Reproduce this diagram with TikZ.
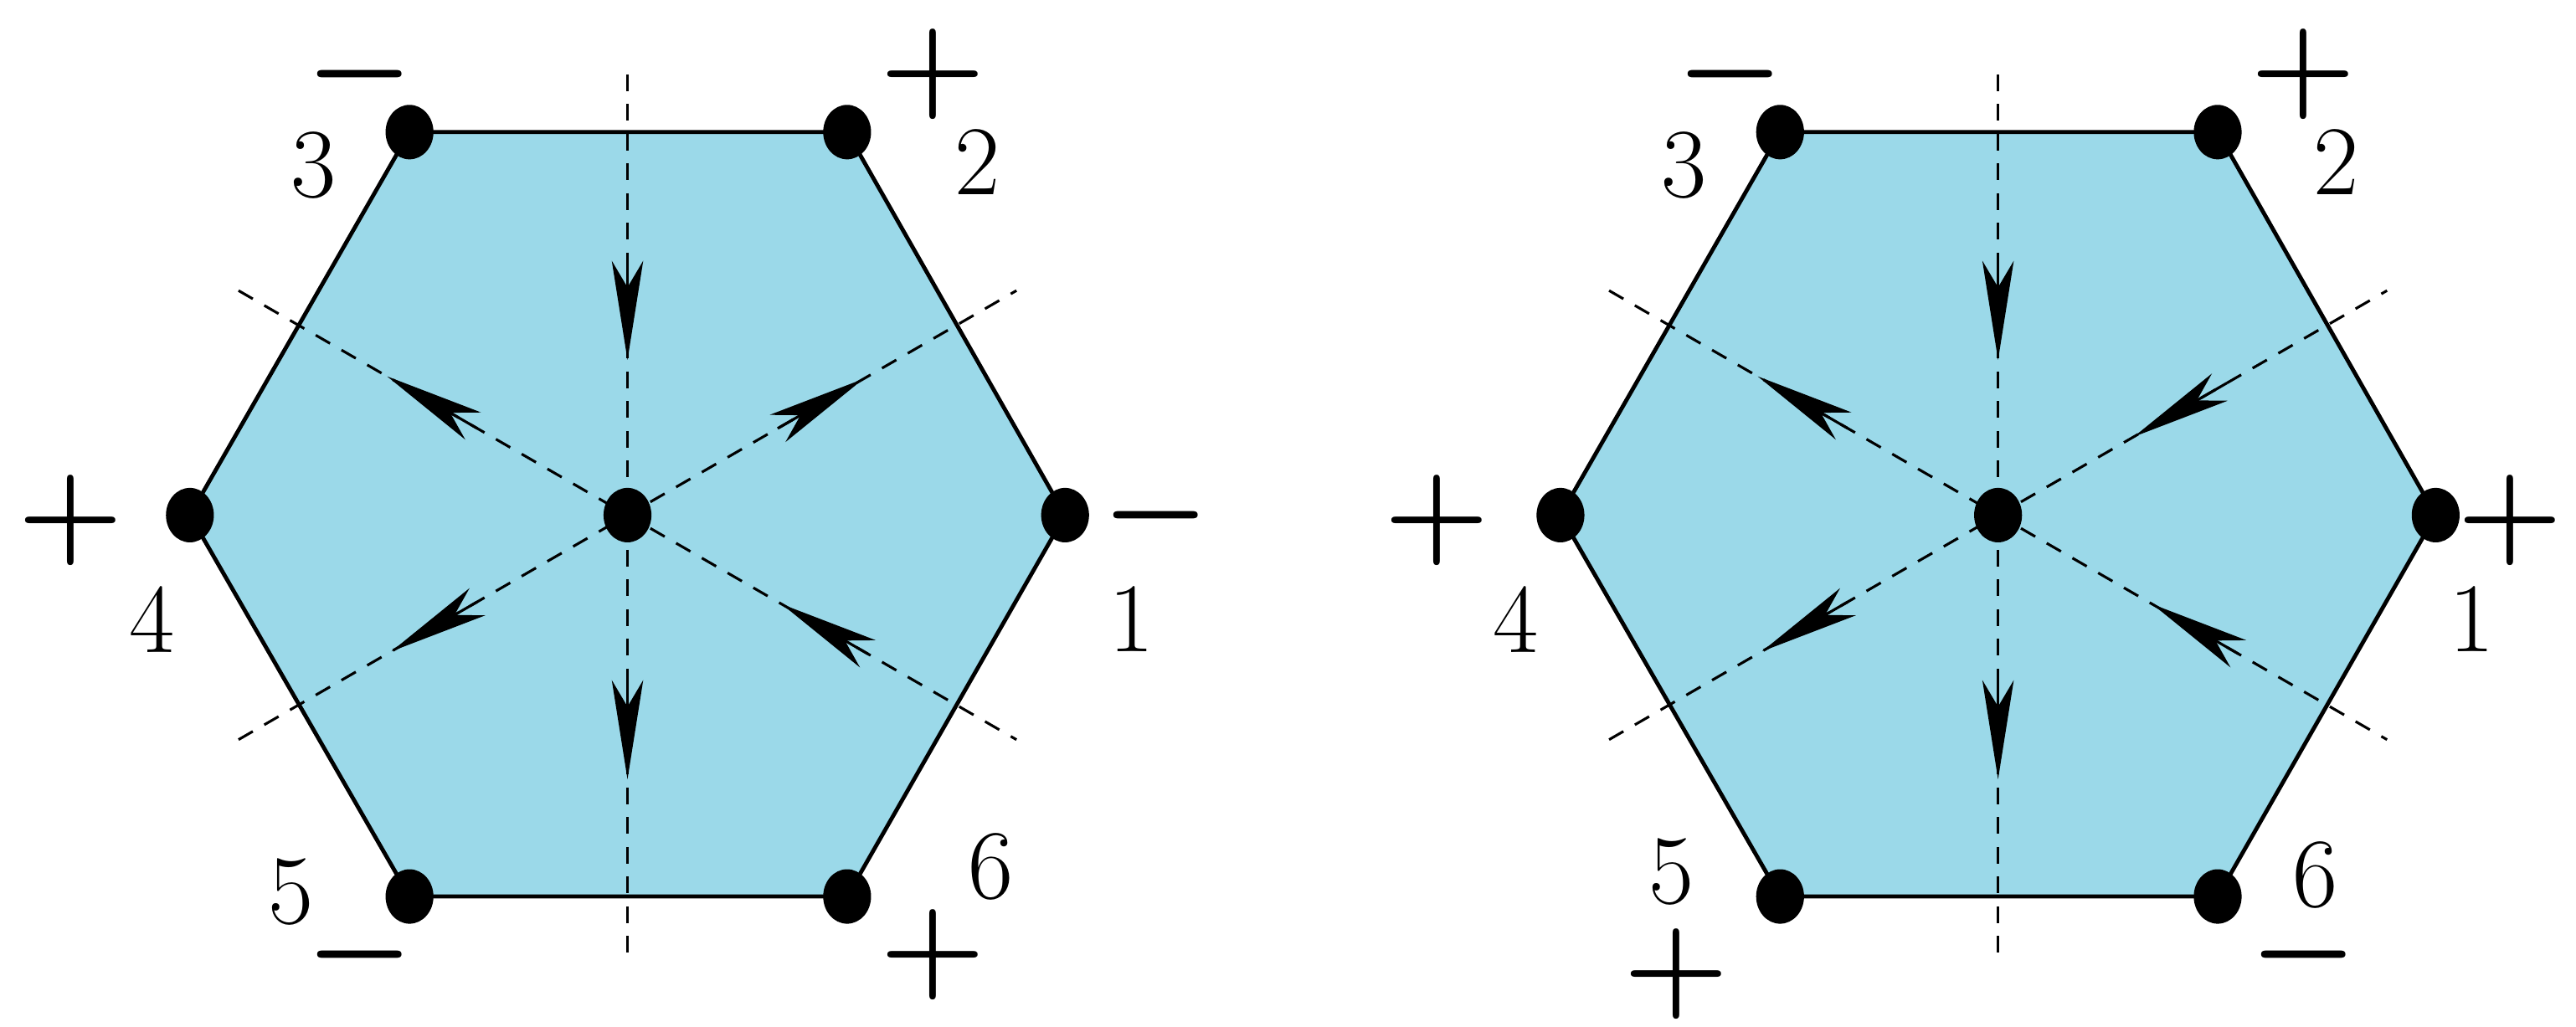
\documentclass[tikz,border=0pt]{standalone}
\usetikzlibrary{arrows.meta,calc,shapes.geometric}
\definecolor{hexfill}{RGB}{155,217,233}
\tikzset{
  dot/.style={ellipse,fill=black,minimum width=2.9mm,minimum height=3.3mm,inner sep=0pt},
  hexedge/.style={draw=black,line width=0.7pt,fill=hexfill},
  axis/.style={dashed,dash pattern=on 1mm off 0.8mm,line width=0.45pt},
  arr/.style={-{Stealth[length=6mm,width=1.9mm,inset=1.6mm]},line width=0.45pt},
  sgn/.style={font=\fontsize{22}{22}\selectfont\boldmath,inner sep=0pt},
  num/.style={font=\fontsize{17}{17}\selectfont,inner sep=0pt}
}
\begin{document}
\begin{tikzpicture}[x=0.1mm,y=-0.1mm]
\useasboundingbox (0,0) rectangle (1560,622);
\foreach \p/\ox in {L/0,R/830}{
  \coordinate (\p c) at (380+\ox,312);
  \coordinate (\p v1) at (645+\ox,312);
  \coordinate (\p v2) at (513+\ox,80);
  \coordinate (\p v3) at (248+\ox,80);
  \coordinate (\p v4) at (115+\ox,312);
  \coordinate (\p v5) at (248+\ox,543);
  \coordinate (\p v6) at (513+\ox,543);
  \path[hexedge] (\p v1)--(\p v2)--(\p v3)--(\p v4)--(\p v5)--(\p v6)--cycle;
  \coordinate (\p t) at (380+\ox,45);
  \coordinate (\p b) at (380+\ox,578);
  \coordinate (\p ul) at ($(\p c)+(210:272)$);
  \coordinate (\p lr) at ($(\p c)+(30:272)$);
  \coordinate (\p ur) at ($(\p c)+(330:272)$);
  \coordinate (\p ll) at ($(\p c)+(150:272)$);
  \draw[axis] (\p t) -- (\p b);
  \draw[axis] (\p ul) -- (\p lr);
  \draw[axis] (\p ll) -- (\p ur);
  \foreach \i in {1,...,6}{\node[dot] (\p d\i) at (\p v\i) {};}
  \node[dot] (\p dc) at (\p c) {};
  \draw[arr] ($(\p c)+(270:155)$) -- ($(\p c)+(270:94)$);
  \draw[arr] ($(\p c)+(90:100)$) -- ($(\p c)+(90:160)$);
  \draw[arr] ($(\p c)+(210:105)$) -- ($(\p c)+(210:168)$);
  \draw[arr] ($(\p c)+(150:105)$) -- ($(\p c)+(150:165)$);
  \draw[arr] ($(\p c)+(30:168)$) -- ($(\p c)+(30:108)$);
}
\draw[arr] ($(Lc)+(330:105)$) -- ($(Lc)+(330:165)$);
\draw[arr] ($(Rc)+(330:160)$) -- ($(Rc)+(330:95)$);
\node[sgn] (Ls3) at (218,45) {$-$};
\node[sgn] (Ls2) at (565,45) {$+$};
\node[sgn] (Ls4) at (43,315) {$+$};
\node[sgn] (Ls1) at (700,312) {$-$};
\node[sgn] (Ls5) at (218,578) {$-$};
\node[sgn] (Ls6) at (565,578) {$+$};
\node[num] (Ln3) at (190,100) {3};
\node[num] (Ln2) at (592,98) {2};
\node[num] (Ln4) at (92,375) {4};
\node[num] (Ln1) at (685,375) {1};
\node[num] (Ln5) at (176,540) {5};
\node[num] (Ln6) at (600,525) {6};
\node[sgn] (Rs3) at (1048,45) {$-$};
\node[sgn] (Rs2) at (1395,45) {$+$};
\node[sgn] (Rs4) at (870,315) {$+$};
\node[sgn] (Rs1) at (1520,315) {$+$};
\node[sgn] (Rs5) at (1015,590) {$+$};
\node[sgn] (Rs6) at (1395,578) {$-$};
\node[num] (Rn3) at (1020,100) {3};
\node[num] (Rn2) at (1415,98) {2};
\node[num] (Rn4) at (918,375) {4};
\node[num] (Rn1) at (1497,375) {1};
\node[num] (Rn5) at (1012,528) {5};
\node[num] (Rn6) at (1402,530) {6};
\end{tikzpicture}
\end{document}
